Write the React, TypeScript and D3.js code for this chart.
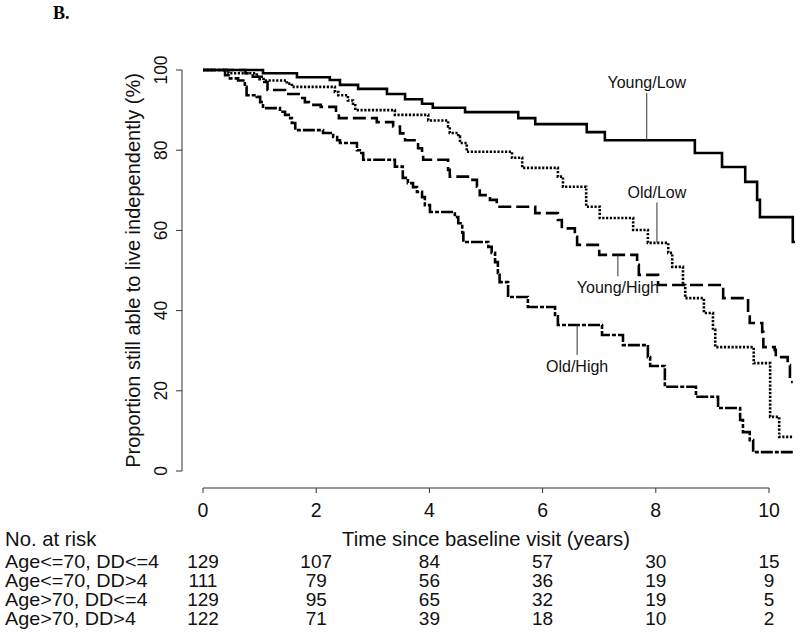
import React from "react";
import * as d3 from "d3";

// ---- Data ----
const youngLowT = [0, 1.06, 1.66, 2.24, 2.42, 2.74, 3.25, 3.57, 3.87, 4.06, 4.63, 5.57, 5.87, 6.78, 7.10, 8.69, 9.17, 9.58, 9.79, 9.84, 10.42, 10.46];
const youngLowV = [100, 99.2, 98.2, 97.5, 96.3, 95.3, 94.0, 92.7, 91.6, 90.6, 89.5, 88.0, 86.5, 84.5, 82.5, 79.3, 75.8, 72.1, 67.6, 63.3, 57.1, 57.1];

const oldLowT = [0, 0.45, 0.95, 1.07, 1.48, 1.57, 2.33, 2.39, 2.56, 2.65, 2.69, 3.39, 3.98, 4.33, 4.36, 4.51, 4.54, 4.66, 5.46, 5.64, 6.27, 6.36, 6.77, 7.01, 7.60, 7.86, 8.22, 8.29, 8.48, 8.52, 8.85, 9.01, 9.05, 9.73, 10.02, 10.18, 10.42];
const oldLowV = [100, 99.2, 98.3, 97.4, 96.6, 95.8, 94.5, 93.7, 92.4, 91.6, 90.0, 88.8, 87.4, 85.9, 84.3, 83.4, 81.8, 79.6, 78.1, 75.6, 73.4, 70.9, 65.9, 63.1, 60.1, 56.9, 54.4, 50.9, 46.4, 43.1, 39.4, 35.2, 30.9, 26.9, 13.5, 8.5, 8.5];

const youngHighT = [0, 0.75, 0.88, 1.0, 1.14, 1.45, 1.72, 1.80, 1.87, 2.08, 2.35, 2.40, 3.07, 3.36, 3.48, 3.57, 3.80, 3.87, 3.89, 4.33, 4.36, 4.68, 4.84, 4.89, 5.07, 5.19, 5.87, 6.27, 6.34, 6.57, 6.61, 7.0, 7.67, 7.70, 8.04, 9.19, 9.63, 9.66, 9.88, 9.90, 10.10, 10.12, 10.33, 10.37, 10.42];
const youngHighV = [100, 99.2, 98.3, 97.0, 95.0, 94.0, 93.0, 92.0, 91.3, 90.8, 89.5, 88.0, 87.0, 85.9, 84.2, 82.5, 80.5, 78.8, 77.6, 75.1, 73.4, 72.6, 70.9, 68.8, 67.6, 65.9, 64.3, 62.6, 60.5, 58.4, 56.4, 53.9, 51.4, 48.9, 46.4, 43.1, 39.4, 36.9, 34.7, 30.9, 30.2, 28.4, 26.4, 22.2, 22.2];

const oldHighT = [0, 0.39, 0.45, 0.62, 0.74, 0.77, 0.95, 1.01, 1.06, 1.36, 1.45, 1.54, 1.57, 1.63, 2.12, 2.30, 2.37, 2.42, 2.72, 2.77, 2.83, 3.39, 3.53, 3.62, 3.71, 3.78, 3.87, 3.92, 4.01, 4.45, 4.51, 4.58, 4.60, 5.04, 5.10, 5.16, 5.21, 5.24, 5.39, 5.74, 6.22, 6.27, 7.05, 7.42, 7.86, 7.90, 8.16, 8.71, 9.10, 9.49, 9.54, 9.66, 9.72, 10.42];
const oldHighV = [100, 98.7, 97.9, 97.4, 95.8, 93.7, 93.3, 92.0, 90.5, 89.6, 88.8, 88.0, 86.8, 85.0, 84.3, 83.3, 82.5, 81.8, 80.0, 79.3, 77.6, 75.9, 73.1, 71.8, 70.8, 69.6, 68.3, 66.3, 64.6, 63.3, 61.8, 59.4, 57.1, 55.9, 54.4, 52.1, 49.4, 47.1, 43.4, 40.9, 38.9, 36.4, 33.9, 31.4, 28.4, 26.2, 21.0, 18.5, 15.7, 12.7, 9.7, 7.7, 4.7, 4.7];

const xTicks = [0, 2, 4, 6, 8, 10];
const yTicks = [0, 20, 40, 60, 80, 100];

const riskLabels = ["Age<=70, DD<=4", "Age<=70, DD>4", "Age>70, DD<=4", "Age>70, DD>4"];
const riskRow1 = [129, 107, 84, 57, 30, 15];
const riskRow2 = [111, 79, 56, 36, 19, 9];
const riskRow3 = [129, 95, 65, 32, 19, 5];
const riskRow4 = [122, 71, 39, 18, 10, 2];
const riskRows = [riskRow1, riskRow2, riskRow3, riskRow4];

// curve labels: name, time at which leader touches curve, value there, label anchor value
const curveLabels = [
  { name: "Young/Low", t: 7.84, v: 82.5, lv: 95.5 },
  { name: "Old/Low", t: 8.02, v: 56.9, lv: 68.2 },
  { name: "Young/High", t: 7.33, v: 53.9, lv: 44.3 },
  { name: "Old/High", t: 6.61, v: 36.4, lv: 24.7 },
];

const FONT = "'Liberation Sans', Arial, Helvetica, sans-serif";

export default function App() {
  const x = d3.scaleLinear().domain([0, 10]).range([203, 769]);
  const y = d3.scaleLinear().domain([0, 100]).range([471, 70]);
  const line = d3
    .line<[number, number]>()
    .x((d) => x(d[0]))
    .y((d) => y(d[1]))
    .curve(d3.curveStepAfter);

  const zip = (t: number[], v: number[]) => t.map((tt, i) => [tt, v[i]] as [number, number]);

  const series = [
    { d: zip(youngLowT, youngLowV), dash: "none" },
    { d: zip(oldLowT, oldLowV), dash: "2.2,1.6" },
    { d: zip(youngHighT, youngHighV), dash: "13,5" },
    { d: zip(oldHighT, oldHighV), dash: "12,2,4,2" },
  ];

  const axisColor = "#333";
  const rowBase = [568, 587, 606, 625];

  return (
    <svg
      width={800}
      height={633}
      style={{ position: "absolute", left: 0, top: 0, background: "#fff" }}
      fontFamily={FONT}
    >
      <rect x={0} y={0} width={800} height={633} fill="#fff" />
      <text x={53} y={19} fontFamily="'Liberation Serif', 'Times New Roman', serif" fontWeight="bold" fontSize={18}>
        B.
      </text>

      {/* Y axis */}
      <line x1={182} x2={182} y1={y(0)} y2={y(100)} stroke={axisColor} strokeWidth={1} />
      {yTicks.map((t) => (
        <g key={"yt" + t}>
          <line x1={176} x2={182} y1={y(t)} y2={y(t)} stroke={axisColor} strokeWidth={1} />
          <text transform={`translate(167,${y(t)}) scale(1.08,1) rotate(-90)`} textAnchor="middle" fontSize={17.5} fill="#111">
            {t}
          </text>
        </g>
      ))}
      <text transform={`translate(140,${(y(0) + y(100)) / 2}) rotate(-90)`} textAnchor="middle" fontSize={20} fill="#111">
        Proportion still able to live independently (%)
      </text>

      {/* X axis */}
      <line x1={x(0)} x2={x(10)} y1={488} y2={488} stroke={axisColor} strokeWidth={1} />
      {xTicks.map((t) => (
        <g key={"xt" + t}>
          <line x1={x(t)} x2={x(t)} y1={488} y2={493} stroke={axisColor} strokeWidth={1} />
          <text x={x(t)} y={517} textAnchor="middle" fontSize={19.5} fill="#111">
            {t}
          </text>
        </g>
      ))}
      <text x={(x(0) + x(10)) / 2} y={546} textAnchor="middle" fontSize={20.3} fill="#111">
        Time since baseline visit (years)
      </text>

      {/* curves */}
      {series.map((s, i) => (
        <path key={"s" + i} d={line(s.d) || ""} fill="none" stroke="#000" strokeWidth={2.6} strokeDasharray={s.dash} />
      ))}

      {/* curve labels */}
      {curveLabels.map((c) => (
        <g key={c.name}>
          <line x1={x(c.t)} x2={x(c.t)} y1={y(c.v)} y2={c.lv > c.v ? y(c.lv) + 5 : y(c.lv) - 17} stroke="#333" strokeWidth={1} />
          <text x={x(c.t)} y={y(c.lv)} textAnchor="middle" fontSize={16} fill="#111">
            {c.name}
          </text>
        </g>
      ))}

      {/* number at risk */}
      <text x={5} y={546} fontSize={20.3} fill="#111">
        No. at risk
      </text>
      {riskLabels.map((lab, i) => (
        <g key={lab}>
          <text transform={`translate(5,${rowBase[i]}) scale(1.1,1)`} fontSize={18} fill="#111">
            {lab}
          </text>
          {riskRows[i].map((n, j) => (
            <text key={j} x={x(xTicks[j])} y={rowBase[i]} textAnchor="middle" fontSize={19} fill="#111">
              {n}
            </text>
          ))}
        </g>
      ))}
    </svg>
  );
}
